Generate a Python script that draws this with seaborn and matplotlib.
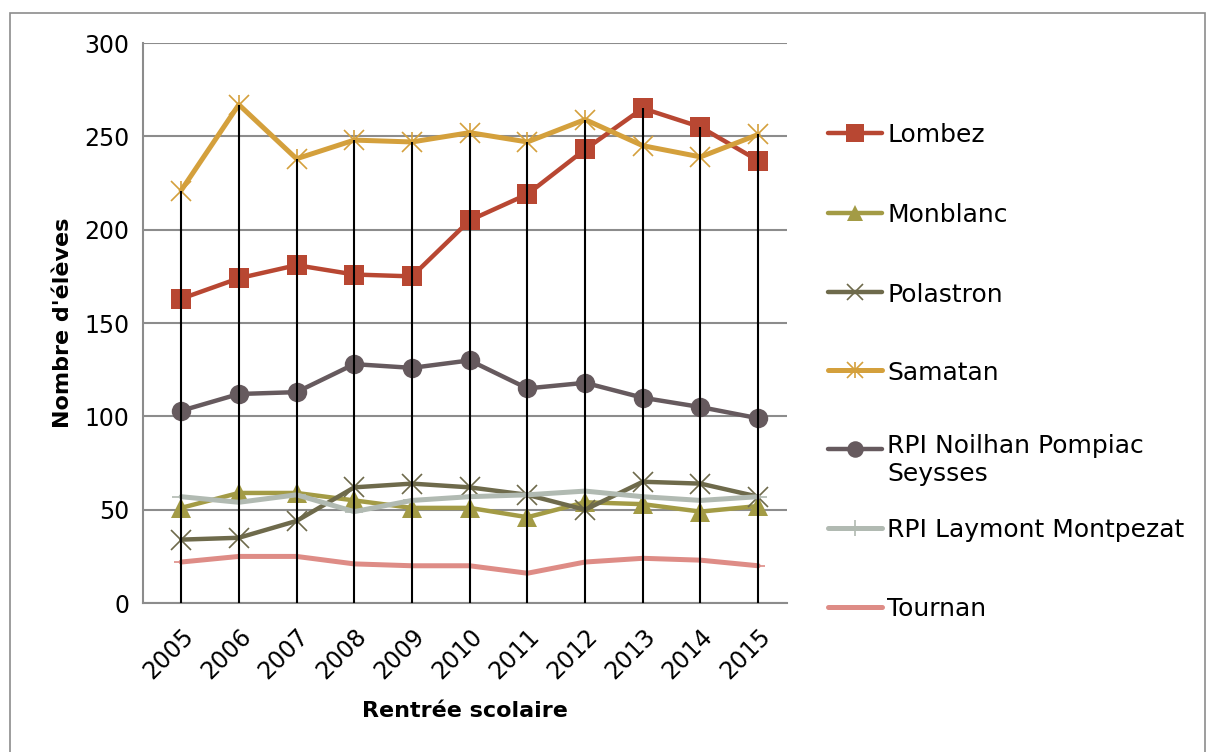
import matplotlib
matplotlib.use("Agg")
import matplotlib.pyplot as plt
from matplotlib.lines import Line2D
from matplotlib.patches import Rectangle
import seaborn as sns
import numpy as np
import pandas as pd

years = [2005, 2006, 2007, 2008, 2009, 2010, 2011, 2012, 2013, 2014, 2015]

lombez = [163, 174, 181, 176, 175, 205, 219, 243, 265, 255, 237]
monblanc = [51, 59, 59, 55, 51, 51, 46, 54, 53, 49, 52]
polastron = [34, 35, 44, 62, 64, 62, 58, 50, 65, 64, 57]
samatan = [221, 267, 238, 248, 247, 252, 247, 259, 245, 239, 251]
noilhan = [103, 112, 113, 128, 126, 130, 115, 118, 110, 105, 99]
laymont = [57, 54, 58, 49, 55, 57, 58, 60, 57, 55, 57]
tournan = [22, 25, 25, 21, 20, 20, 16, 22, 24, 23, 20]

names = ["Lombez", "Monblanc", "Polastron", "Samatan",
         "RPI Noilhan Pompiac\nSeysses", "RPI Laymont Montpezat", "Tournan"]
series = [lombez, monblanc, polastron, samatan, noilhan, laymont, tournan]
colors = ["#B84732", "#A39B45", "#6E6A4B", "#D4A03C", "#665A5E", "#B1BAB2", "#DE8C86"]

# marker, size, marker edge width, line width
styles = [
    ("s", 15, 0, 3.2),
    ("^", 14, 0, 3.2),
    ("x", 14, 1.2, 3.2),
    ("x", 14, 1.2, 3.6),
    ("o", 14, 0, 3.2),
    ("+", 13, 1.2, 3.6),
    ("_", 10, 1.2, 3.6),
]

sns.set_style("white")
plt.rcParams["font.family"] = ["DejaVu Sans"]
plt.rcParams["text.color"] = "black"
plt.rcParams["axes.labelcolor"] = "black"
plt.rcParams["xtick.color"] = "black"
plt.rcParams["ytick.color"] = "black"

fig = plt.figure(figsize=(12.09, 7.52), dpi=100)
ax = fig.add_axes([0.1183, 0.198, 0.5327, 0.7448])

grid_col = "#8C8C8C"

for vals, name, col, (mk, ms, mew, lw) in zip(series, names, colors, styles):
    df = pd.DataFrame({"year": years, "value": vals})
    sns.lineplot(data=df, x="year", y="value", ax=ax, color=col, linewidth=lw,
                 marker=mk, markersize=ms, markeredgewidth=mew,
                 markeredgecolor=col, markerfacecolor=col, zorder=3,
                 legend=False)
    if name == "Samatan":
        sns.scatterplot(data=df, x="year", y="value", ax=ax, marker="|",
                        s=200, color=col, linewidth=1.2, zorder=4, legend=False)

# drop lines from the highest series down to the axis
top = np.max(np.array(series), axis=0)
ax.vlines(years, 0, top, color="black", linewidth=1.5, zorder=5)

ax.set_ylim(0, 300)
ax.set_xlim(2005 - 0.66, 2015 + 0.5)
ax.set_yticks(np.arange(0, 301, 50))
ax.set_xticks(years)
ax.set_xticklabels([str(y) for y in years], rotation=45, ha="right",
                   rotation_mode="anchor", fontsize=17)
ax.tick_params(axis="x", length=0, pad=15, colors="black")
ax.tick_params(axis="y", length=6, width=1.4, color=grid_col, labelcolor="black",
               labelsize=17, pad=4)

ax.yaxis.grid(True, color=grid_col, linewidth=1.5)
ax.set_axisbelow(True)
for s in ["top", "right"]:
    ax.spines[s].set_visible(False)
for s in ["left", "bottom"]:
    ax.spines[s].set_color(grid_col)
    ax.spines[s].set_linewidth(1.5)

ax.set_xlabel("Rentrée scolaire", fontsize=16, fontweight="bold")
ax.set_ylabel("Nombre d'élèves", fontsize=16, fontweight="bold")
ax.xaxis.set_label_coords(0.5, -0.175)
ax.yaxis.set_label_coords(-0.108, 0.5)

# legend on the right, one slot per series
W, H = 1209, 752
slot_y = [133, 213, 292, 370, 449, 528, 607]
for (name, col, (mk, ms, mew, lw), yy) in zip(names, colors, styles, slot_y):
    fy = 1 - yy / H
    fig.add_artist(Line2D([828 / W, 882 / W], [fy, fy], color=col, linewidth=lw,
                          solid_capstyle="round", transform=fig.transFigure))
    fig.add_artist(Line2D([855 / W], [fy], marker=mk, markersize=ms * 0.85,
                          markeredgewidth=mew, color=col, markerfacecolor=col,
                          markeredgecolor=col, linestyle="none",
                          transform=fig.transFigure))
    if name == "Samatan":
        fig.add_artist(Line2D([855 / W], [fy], marker="|", markersize=ms * 0.85,
                              markeredgewidth=1.2, color=col, linestyle="none",
                              transform=fig.transFigure))
    if "\n" in name:
        fig.text(887 / W, 1 - (yy - 15) / H, name, fontsize=18, va="top",
                 ha="left", linespacing=1.2)
    else:
        fig.text(887 / W, fy, name, fontsize=18, va="center_baseline", ha="left")

# outer frame
fig.add_artist(Rectangle((10 / W, -0.01), 1195 / W, 1 - 13 / H + 0.01,
                         fill=False, edgecolor="#8C8C8C", linewidth=1.2,
                         transform=fig.transFigure))

fig.savefig("out.png", dpi=100)
